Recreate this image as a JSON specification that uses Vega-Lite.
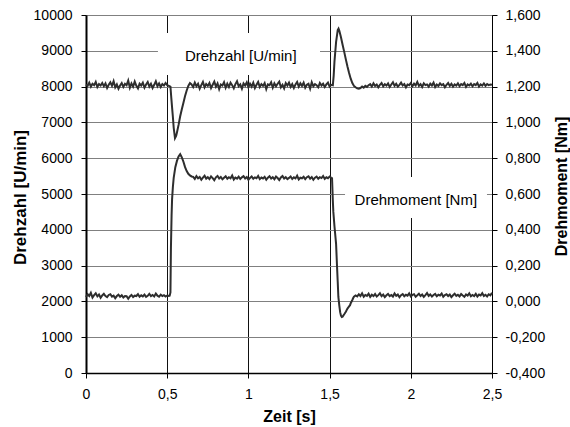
{
"$schema":"https://vega.github.io/schema/vega-lite/v6.json",
"width":406,"height":358,
"autosize":{"type":"none"},
"padding":{"left":86,"top":15,"right":78,"bottom":54},
"background":"white",
"config":{"view":{"stroke":null},"font":"Liberation Sans",
"axis":{"labelFont":"Liberation Sans","labelFontSize":14,"labelColor":"black","titleFont":"Liberation Sans","titleFontSize":16,"titleFontWeight":"bold","titleColor":"black","domainColor":"black","tickColor":"black","tickSize":5,"gridWidth":1,"gridOpacity":1},
"axisX":{"gridColor":"#111111"},
"axisY":{"gridColor":"#808080","gridWidth":1.2}},
"datasets":{
"drehzahl":[
{"t":0,"n":8060},{"t":0.01,"n":8020},{"t":0.02,"n":8110},{"t":0.03,"n":8000},{"t":0.04,"n":8080},{"t":0.05,"n":8040},{"t":0.06,"n":8130},{"t":0.07,"n":7990},{"t":0.08,"n":8070},{"t":0.09,"n":8030},
{"t":0.10,"n":8100},{"t":0.11,"n":8010},{"t":0.12,"n":8090},{"t":0.13,"n":7960},{"t":0.14,"n":8050},{"t":0.15,"n":8120},{"t":0.16,"n":8020},{"t":0.17,"n":8150},{"t":0.18,"n":7980},{"t":0.19,"n":8060},
{"t":0.20,"n":7940},{"t":0.21,"n":8030},{"t":0.22,"n":8100},{"t":0.23,"n":7990},{"t":0.24,"n":8080},{"t":0.25,"n":8040},{"t":0.26,"n":8170},{"t":0.27,"n":7970},{"t":0.28,"n":8090},{"t":0.29,"n":8000},
{"t":0.30,"n":8140},{"t":0.31,"n":8020},{"t":0.32,"n":7950},{"t":0.33,"n":8080},{"t":0.34,"n":8030},{"t":0.35,"n":8110},{"t":0.36,"n":7970},{"t":0.37,"n":8060},{"t":0.38,"n":8130},{"t":0.39,"n":8000},
{"t":0.40,"n":8080},{"t":0.41,"n":7960},{"t":0.42,"n":8050},{"t":0.43,"n":8150},{"t":0.44,"n":8010},{"t":0.45,"n":8090},{"t":0.46,"n":7990},{"t":0.47,"n":8070},{"t":0.48,"n":8030},{"t":0.49,"n":8100},
{"t":0.50,"n":8040},{"t":0.51,"n":8020},{"t":0.52,"n":8000},{"t":0.525,"n":7700},{"t":0.53,"n":7420},{"t":0.535,"n":7150},{"t":0.54,"n":6850},{"t":0.548,"n":6560},{"t":0.555,"n":6620},{"t":0.56,"n":6720},
{"t":0.57,"n":6930},{"t":0.58,"n":7170},{"t":0.59,"n":7370},{"t":0.60,"n":7550},{"t":0.61,"n":7740},{"t":0.62,"n":7890},{"t":0.63,"n":8020},{"t":0.64,"n":8100},
{"t":0.65,"n":8060},{"t":0.66,"n":7990},{"t":0.67,"n":8110},{"t":0.68,"n":8010},{"t":0.69,"n":8080},{"t":0.70,"n":7940},{"t":0.71,"n":8040},{"t":0.72,"n":8130},{"t":0.73,"n":7980},{"t":0.74,"n":8070},
{"t":0.75,"n":8020},{"t":0.76,"n":8100},{"t":0.77,"n":7960},{"t":0.78,"n":8050},{"t":0.79,"n":8140},{"t":0.80,"n":8000},{"t":0.81,"n":8090},{"t":0.82,"n":7930},{"t":0.83,"n":8060},{"t":0.84,"n":8030},
{"t":0.85,"n":8120},{"t":0.86,"n":7970},{"t":0.87,"n":8080},{"t":0.88,"n":7990},{"t":0.89,"n":8110},{"t":0.90,"n":8040},{"t":0.91,"n":7950},{"t":0.92,"n":8070},{"t":0.93,"n":8150},{"t":0.94,"n":8010},
{"t":0.95,"n":8060},{"t":0.96,"n":7940},{"t":0.97,"n":8090},{"t":0.98,"n":8030},{"t":0.99,"n":8120},{"t":1.00,"n":7980},{"t":1.01,"n":8080},{"t":1.02,"n":8000},{"t":1.03,"n":8110},{"t":1.04,"n":7960},
{"t":1.05,"n":8050},{"t":1.06,"n":8130},{"t":1.07,"n":7990},{"t":1.08,"n":8070},{"t":1.09,"n":8020},{"t":1.10,"n":8100},{"t":1.11,"n":7930},{"t":1.12,"n":8060},{"t":1.13,"n":8040},{"t":1.14,"n":8120},
{"t":1.15,"n":7970},{"t":1.16,"n":8090},{"t":1.17,"n":8010},{"t":1.18,"n":8080},{"t":1.19,"n":8140},{"t":1.20,"n":7980},{"t":1.21,"n":8050},{"t":1.22,"n":7950},{"t":1.23,"n":8100},{"t":1.24,"n":8030},
{"t":1.25,"n":8110},{"t":1.26,"n":7990},{"t":1.27,"n":8070},{"t":1.28,"n":7960},{"t":1.29,"n":8060},{"t":1.30,"n":8130},{"t":1.31,"n":8000},{"t":1.32,"n":8090},{"t":1.33,"n":8020},{"t":1.34,"n":8110},
{"t":1.35,"n":7970},{"t":1.36,"n":8050},{"t":1.37,"n":8080},{"t":1.38,"n":7940},{"t":1.39,"n":8120},{"t":1.40,"n":8010},{"t":1.41,"n":8070},{"t":1.42,"n":8040},{"t":1.43,"n":7980},{"t":1.44,"n":8100},
{"t":1.45,"n":8030},{"t":1.46,"n":8080},{"t":1.47,"n":7990},{"t":1.48,"n":8060},{"t":1.49,"n":8110},{"t":1.50,"n":8000},{"t":1.51,"n":8050},
{"t":1.52,"n":8040},{"t":1.525,"n":8300},{"t":1.53,"n":8700},{"t":1.54,"n":9250},{"t":1.55,"n":9580},{"t":1.555,"n":9620},{"t":1.56,"n":9560},{"t":1.57,"n":9380},{"t":1.58,"n":9170},{"t":1.59,"n":8970},
{"t":1.60,"n":8760},{"t":1.61,"n":8560},{"t":1.62,"n":8380},{"t":1.63,"n":8220},{"t":1.64,"n":8100},{"t":1.65,"n":8020},{"t":1.66,"n":7980},{"t":1.67,"n":7950},{"t":1.68,"n":7940},{"t":1.69,"n":7960},
{"t":1.70,"n":8000},{"t":1.71,"n":7970},{"t":1.72,"n":8020},{"t":1.73,"n":7990},{"t":1.74,"n":8040},
{"t":1.75,"n":8070},{"t":1.76,"n":8000},{"t":1.77,"n":8090},{"t":1.78,"n":8020},{"t":1.79,"n":8060},{"t":1.80,"n":7980},{"t":1.81,"n":8050},{"t":1.82,"n":8100},{"t":1.83,"n":8010},{"t":1.84,"n":8070},
{"t":1.85,"n":8030},{"t":1.86,"n":8090},{"t":1.87,"n":7990},{"t":1.88,"n":8060},{"t":1.89,"n":8120},{"t":1.90,"n":8020},{"t":1.91,"n":8080},{"t":1.92,"n":8000},{"t":1.93,"n":8050},{"t":1.94,"n":8110},
{"t":1.95,"n":8030},{"t":1.96,"n":8070},{"t":1.97,"n":7980},{"t":1.98,"n":8060},{"t":1.99,"n":8040},{"t":2.00,"n":8100},{"t":2.01,"n":8010},{"t":2.02,"n":8080},{"t":2.03,"n":8030},{"t":2.04,"n":8130},
{"t":2.05,"n":8020},{"t":2.06,"n":8070},{"t":2.07,"n":7990},{"t":2.08,"n":8090},{"t":2.09,"n":8040},{"t":2.10,"n":8060},{"t":2.11,"n":8000},{"t":2.12,"n":8080},{"t":2.13,"n":8030},{"t":2.14,"n":8110},
{"t":2.15,"n":7990},{"t":2.16,"n":8060},{"t":2.17,"n":8020},{"t":2.18,"n":8090},{"t":2.19,"n":8040},{"t":2.20,"n":8070},{"t":2.21,"n":7980},{"t":2.22,"n":8050},{"t":2.23,"n":8100},{"t":2.24,"n":8020},
{"t":2.25,"n":8080},{"t":2.26,"n":8000},{"t":2.27,"n":8060},{"t":2.28,"n":8030},{"t":2.29,"n":8090},{"t":2.30,"n":8010},{"t":2.31,"n":8070},{"t":2.32,"n":8040},{"t":2.33,"n":8100},{"t":2.34,"n":7990},
{"t":2.35,"n":8060},{"t":2.36,"n":8030},{"t":2.37,"n":8080},{"t":2.38,"n":8010},{"t":2.39,"n":8070},{"t":2.40,"n":8040},{"t":2.41,"n":8100},{"t":2.42,"n":8000},{"t":2.43,"n":8060},{"t":2.44,"n":8030},
{"t":2.45,"n":8090},{"t":2.46,"n":8020},{"t":2.47,"n":8070},{"t":2.48,"n":8040},{"t":2.49,"n":8060},{"t":2.50,"n":8050}
],
"moment":[
{"t":0,"m":0.025},{"t":0.01,"m":0.040},{"t":0.02,"m":0.030},{"t":0.03,"m":0.048},{"t":0.04,"m":0.022},{"t":0.05,"m":0.035},{"t":0.06,"m":0.045},{"t":0.07,"m":0.028},{"t":0.08,"m":0.038},{"t":0.09,"m":0.020},
{"t":0.10,"m":0.033},{"t":0.11,"m":0.042},{"t":0.12,"m":0.030},{"t":0.13,"m":0.024},{"t":0.14,"m":0.036},{"t":0.15,"m":0.040},{"t":0.16,"m":0.027},{"t":0.17,"m":0.032},{"t":0.18,"m":0.018},{"t":0.19,"m":0.030},
{"t":0.20,"m":0.038},{"t":0.21,"m":0.026},{"t":0.22,"m":0.034},{"t":0.23,"m":0.022},{"t":0.24,"m":0.030},{"t":0.25,"m":0.029},{"t":0.26,"m":0.015},{"t":0.27,"m":0.028},{"t":0.28,"m":0.036},{"t":0.29,"m":0.024},
{"t":0.30,"m":0.032},{"t":0.31,"m":0.030},{"t":0.32,"m":0.040},{"t":0.33,"m":0.026},{"t":0.34,"m":0.034},{"t":0.35,"m":0.028},{"t":0.36,"m":0.038},{"t":0.37,"m":0.025},{"t":0.38,"m":0.031},{"t":0.39,"m":0.042},
{"t":0.40,"m":0.030},{"t":0.41,"m":0.036},{"t":0.42,"m":0.028},{"t":0.43,"m":0.044},{"t":0.44,"m":0.032},{"t":0.45,"m":0.026},{"t":0.46,"m":0.038},{"t":0.47,"m":0.030},{"t":0.48,"m":0.035},{"t":0.49,"m":0.027},
{"t":0.50,"m":0.033},{"t":0.51,"m":0.030},
{"t":0.515,"m":0.032},{"t":0.52,"m":0.05},{"t":0.523,"m":0.30},{"t":0.527,"m":0.48},{"t":0.53,"m":0.57},{"t":0.535,"m":0.64},{"t":0.54,"m":0.69},{"t":0.55,"m":0.75},{"t":0.56,"m":0.785},{"t":0.57,"m":0.81},
{"t":0.58,"m":0.823},{"t":0.59,"m":0.805},{"t":0.60,"m":0.78},{"t":0.61,"m":0.75},{"t":0.62,"m":0.728},{"t":0.63,"m":0.713},{"t":0.64,"m":0.704},{"t":0.65,"m":0.698},
{"t":0.66,"m":0.696},{"t":0.67,"m":0.684},{"t":0.68,"m":0.700},{"t":0.69,"m":0.688},{"t":0.70,"m":0.695},{"t":0.71,"m":0.680},{"t":0.72,"m":0.692},{"t":0.73,"m":0.702},{"t":0.74,"m":0.686},{"t":0.75,"m":0.694},
{"t":0.76,"m":0.683},{"t":0.77,"m":0.698},{"t":0.78,"m":0.689},{"t":0.79,"m":0.677},{"t":0.80,"m":0.693},{"t":0.81,"m":0.701},{"t":0.82,"m":0.687},{"t":0.83,"m":0.695},{"t":0.84,"m":0.682},{"t":0.85,"m":0.691},
{"t":0.86,"m":0.699},{"t":0.87,"m":0.685},{"t":0.88,"m":0.694},{"t":0.89,"m":0.688},{"t":0.90,"m":0.703},{"t":0.91,"m":0.681},{"t":0.92,"m":0.692},{"t":0.93,"m":0.686},{"t":0.94,"m":0.697},{"t":0.95,"m":0.684},
{"t":0.96,"m":0.693},{"t":0.97,"m":0.700},{"t":0.98,"m":0.687},{"t":0.99,"m":0.695},{"t":1.00,"m":0.679},{"t":1.01,"m":0.690},{"t":1.02,"m":0.698},{"t":1.03,"m":0.685},{"t":1.04,"m":0.693},{"t":1.05,"m":0.688},
{"t":1.06,"m":0.701},{"t":1.07,"m":0.683},{"t":1.08,"m":0.692},{"t":1.09,"m":0.687},{"t":1.10,"m":0.696},{"t":1.11,"m":0.680},{"t":1.12,"m":0.691},{"t":1.13,"m":0.699},{"t":1.14,"m":0.686},{"t":1.15,"m":0.694},
{"t":1.16,"m":0.682},{"t":1.17,"m":0.697},{"t":1.18,"m":0.689},{"t":1.19,"m":0.678},{"t":1.20,"m":0.692},{"t":1.21,"m":0.700},{"t":1.22,"m":0.686},{"t":1.23,"m":0.694},{"t":1.24,"m":0.683},{"t":1.25,"m":0.690},
{"t":1.26,"m":0.698},{"t":1.27,"m":0.684},{"t":1.28,"m":0.693},{"t":1.29,"m":0.687},{"t":1.30,"m":0.702},{"t":1.31,"m":0.681},{"t":1.32,"m":0.691},{"t":1.33,"m":0.688},{"t":1.34,"m":0.696},{"t":1.35,"m":0.683},
{"t":1.36,"m":0.694},{"t":1.37,"m":0.699},{"t":1.38,"m":0.686},{"t":1.39,"m":0.695},{"t":1.40,"m":0.680},{"t":1.41,"m":0.691},{"t":1.42,"m":0.697},{"t":1.43,"m":0.685},{"t":1.44,"m":0.694},{"t":1.45,"m":0.689},
{"t":1.46,"m":0.700},{"t":1.47,"m":0.684},{"t":1.48,"m":0.693},{"t":1.49,"m":0.688},{"t":1.50,"m":0.697},{"t":1.51,"m":0.690},
{"t":1.515,"m":0.688},{"t":1.52,"m":0.56},{"t":1.523,"m":0.50},{"t":1.53,"m":0.42},{"t":1.54,"m":0.32},{"t":1.546,"m":0.19},{"t":1.55,"m":0.11},{"t":1.554,"m":0.025},{"t":1.56,"m":-0.025},{"t":1.565,"m":-0.06},
{"t":1.57,"m":-0.08},{"t":1.575,"m":-0.087},{"t":1.58,"m":-0.085},{"t":1.59,"m":-0.072},{"t":1.60,"m":-0.058},{"t":1.605,"m":-0.049},{"t":1.61,"m":-0.04},{"t":1.62,"m":-0.028},{"t":1.626,"m":-0.021},{"t":1.63,"m":-0.01},
{"t":1.64,"m":0.008},{"t":1.646,"m":0.02},{"t":1.65,"m":0.026},{"t":1.66,"m":0.033},
{"t":1.67,"m":0.028},{"t":1.68,"m":0.040},{"t":1.69,"m":0.030},{"t":1.70,"m":0.045},{"t":1.71,"m":0.026},{"t":1.72,"m":0.036},{"t":1.73,"m":0.031},{"t":1.74,"m":0.043},{"t":1.75,"m":0.025},{"t":1.76,"m":0.037},
{"t":1.77,"m":0.030},{"t":1.78,"m":0.041},{"t":1.79,"m":0.027},{"t":1.80,"m":0.035},{"t":1.81,"m":0.046},{"t":1.82,"m":0.029},{"t":1.83,"m":0.038},{"t":1.84,"m":0.024},{"t":1.85,"m":0.034},{"t":1.86,"m":0.042},
{"t":1.87,"m":0.030},{"t":1.88,"m":0.036},{"t":1.89,"m":0.027},{"t":1.90,"m":0.044},{"t":1.91,"m":0.031},{"t":1.92,"m":0.038},{"t":1.93,"m":0.023},{"t":1.94,"m":0.035},{"t":1.95,"m":0.041},{"t":1.96,"m":0.029},
{"t":1.97,"m":0.037},{"t":1.98,"m":0.032},{"t":1.99,"m":0.045},{"t":2.00,"m":0.028},{"t":2.01,"m":0.036},{"t":2.02,"m":0.040},{"t":2.03,"m":0.026},{"t":2.04,"m":0.034},{"t":2.05,"m":0.043},{"t":2.06,"m":0.030},
{"t":2.07,"m":0.038},{"t":2.08,"m":0.025},{"t":2.09,"m":0.035},{"t":2.10,"m":0.047},{"t":2.11,"m":0.031},{"t":2.12,"m":0.039},{"t":2.13,"m":0.027},{"t":2.14,"m":0.036},{"t":2.15,"m":0.042},{"t":2.16,"m":0.029},
{"t":2.17,"m":0.037},{"t":2.18,"m":0.033},{"t":2.19,"m":0.044},{"t":2.20,"m":0.026},{"t":2.21,"m":0.035},{"t":2.22,"m":0.040},{"t":2.23,"m":0.030},{"t":2.24,"m":0.038},{"t":2.25,"m":0.024},{"t":2.26,"m":0.034},
{"t":2.27,"m":0.043},{"t":2.28,"m":0.031},{"t":2.29,"m":0.037},{"t":2.30,"m":0.028},{"t":2.31,"m":0.041},{"t":2.32,"m":0.033},{"t":2.33,"m":0.026},{"t":2.34,"m":0.039},{"t":2.35,"m":0.032},{"t":2.36,"m":0.045},
{"t":2.37,"m":0.029},{"t":2.38,"m":0.036},{"t":2.39,"m":0.030},{"t":2.40,"m":0.042},{"t":2.41,"m":0.027},{"t":2.42,"m":0.038},{"t":2.43,"m":0.033},{"t":2.44,"m":0.046},{"t":2.45,"m":0.030},{"t":2.46,"m":0.037},
{"t":2.47,"m":0.028},{"t":2.48,"m":0.040},{"t":2.49,"m":0.034},{"t":2.50,"m":0.048}
]},
"layer":[
{"layer":[
{"data":{"name":"drehzahl"},"mark":{"type":"line","color":"#2e2e2e","strokeWidth":2},
 "encoding":{
  "x":{"field":"t","type":"quantitative","scale":{"domain":[0,2.5],"nice":false,"zero":false},
   "axis":{"values":[0,0.5,1,1.5,2,2.5],"labelExpr":"replace(format(datum.value,'~g'),'.',',')","title":"Zeit [s]","labelPadding":9,"domainWidth":1.5,"titleY":43,"titleBaseline":"middle","labelFlush":false}},
  "y":{"field":"n","type":"quantitative","scale":{"domain":[0,10000],"nice":false,"zero":false},
   "axis":{"values":[0,1000,2000,3000,4000,5000,6000,7000,8000,9000,10000],"format":"d","labelOverlap":false,"title":"Drehzahl [U/min]","titleFontSize":17,"labelPadding":9,"domainWidth":2,"titleX":-66,"titleY":182,"titleAngle":270,"titleBaseline":"middle","titleAlign":"center"}}}},
{"data":{"values":[{}]},"mark":{"type":"rect","color":"white"},
 "encoding":{"x":{"datum":0.443,"type":"quantitative"},"x2":{"datum":1.441},
  "y":{"datum":9497,"type":"quantitative","axis":{"values":[0,1000,2000,3000,4000,5000,6000,7000,8000,9000,10000],"format":"d","labelOverlap":false,"title":"Drehzahl [U/min]","titleFontSize":17,"labelPadding":9,"domainWidth":2,"titleX":-66,"titleY":182,"titleAngle":270,"titleBaseline":"middle","titleAlign":"center"}},"y2":{"datum":8323}}},
{"data":{"values":[{}]},"mark":{"type":"rect","color":"white"},
 "encoding":{"x":{"datum":1.595,"type":"quantitative"},"x2":{"datum":2.469},
  "y":{"datum":5476,"type":"quantitative","axis":{"values":[0,1000,2000,3000,4000,5000,6000,7000,8000,9000,10000],"format":"d","labelOverlap":false,"title":"Drehzahl [U/min]","titleFontSize":17,"labelPadding":9,"domainWidth":2,"titleX":-66,"titleY":182,"titleAngle":270,"titleBaseline":"middle","titleAlign":"center"}},"y2":{"datum":4330}}},
{"data":{"values":[{}]},"mark":{"type":"text","font":"Liberation Sans","fontSize":15,"align":"center","baseline":"alphabetic","color":"black"},
 "encoding":{"x":{"datum":0.953,"type":"quantitative"},"y":{"datum":8714,"type":"quantitative","axis":{"values":[0,1000,2000,3000,4000,5000,6000,7000,8000,9000,10000],"format":"d","labelOverlap":false,"title":"Drehzahl [U/min]","titleFontSize":17,"labelPadding":9,"domainWidth":2,"titleX":-66,"titleY":182,"titleAngle":270,"titleBaseline":"middle","titleAlign":"center"}},"text":{"value":"Drehzahl [U/min]"}}},
{"data":{"values":[{}]},"mark":{"type":"text","font":"Liberation Sans","fontSize":15,"align":"center","baseline":"alphabetic","color":"black"},
 "encoding":{"x":{"datum":2.031,"type":"quantitative"},"y":{"datum":4688,"type":"quantitative","axis":{"values":[0,1000,2000,3000,4000,5000,6000,7000,8000,9000,10000],"format":"d","labelOverlap":false,"title":"Drehzahl [U/min]","titleFontSize":17,"labelPadding":9,"domainWidth":2,"titleX":-66,"titleY":182,"titleAngle":270,"titleBaseline":"middle","titleAlign":"center"}},"text":{"value":"Drehmoment [Nm]"}}}
]},
{"data":{"name":"moment"},"mark":{"type":"line","color":"#2e2e2e","strokeWidth":2},
 "encoding":{
  "x":{"field":"t","type":"quantitative"},
  "y":{"field":"m","type":"quantitative","scale":{"domain":[-0.4,1.6],"nice":false,"zero":false},
   "axis":{"orient":"right","grid":false,"values":[-0.4,-0.2,0,0.2,0.4,0.6,0.8,1,1.2,1.4,1.6],"labelOverlap":false,"labelExpr":"replace(replace(format(datum.value,'.3f'),'.',','),'\u2212','-')","title":"Drehmoment [Nm]","labelPadding":8,"domainWidth":1,"titleX":69,"titleY":171,"titleAngle":270,"titleBaseline":"middle","titleAlign":"center"}}}}
],
"resolve":{"scale":{"y":"independent"},"axis":{"y":"independent"}}
}
